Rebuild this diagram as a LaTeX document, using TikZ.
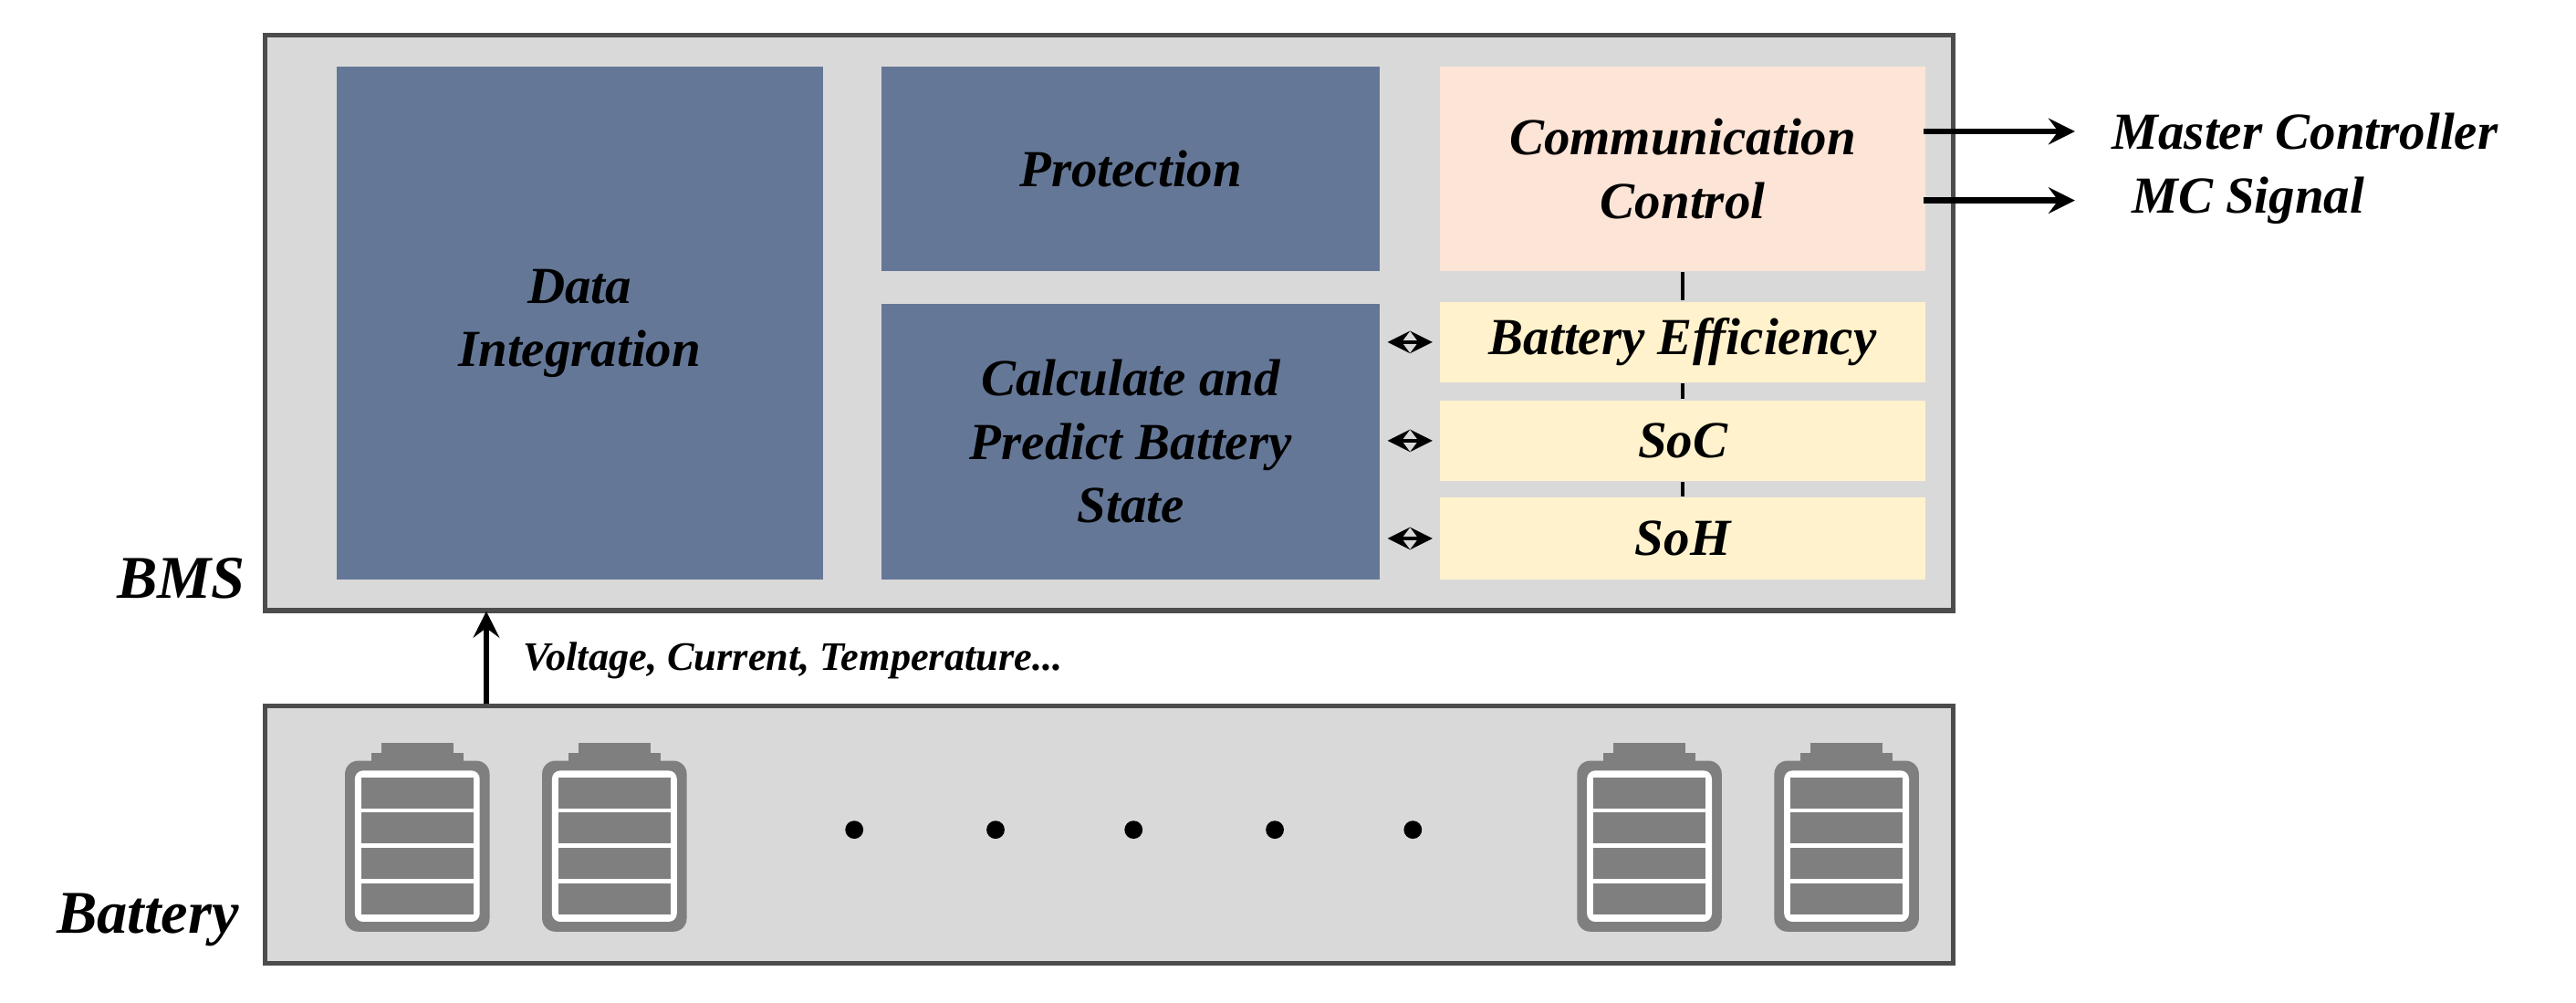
\documentclass[tikz,border=0pt]{standalone}
\usepackage{fontspec}
\setmainfont{Liberation Serif}
\begin{document}
\begin{tikzpicture}[x=0.01cm,y=-0.01cm,
  blk/.style={fill=bluef,draw=none,font=\fontsize{9}{11}\selectfont\bfseries\itshape,align=center,inner sep=0},
  ybox/.style={fill=yelf,draw=none,font=\fontsize{9}{11}\selectfont\bfseries\itshape,inner sep=0},
  lab/.style={font=\fontsize{9}{11}\selectfont\bfseries\itshape,inner sep=0},
  frame/.style={draw=black!70,line width=0.8pt,fill=grayf,inner sep=0},
  >=stealth]
\definecolor{bluef}{HTML}{647797}
\definecolor{grayf}{HTML}{D9D9D9}
\definecolor{yelf}{HTML}{FFF2CC}
\definecolor{peach}{HTML}{FCE4D6}
\definecolor{cellg}{HTML}{7F7F7F}
\useasboundingbox (0,0) rectangle (1568,610);
\fill[white] (0,0) rectangle (1568,610);
% BMS box
\node[frame,minimum width=10.27cm,minimum height=3.5cm,anchor=north west] (bms) at (160,20) {};
\node[blk,minimum width=2.96cm,minimum height=3.12cm,anchor=north west] (di) at (204,40) {Data\\Integration};
\node[blk,minimum width=3.03cm,minimum height=1.24cm,anchor=north west] (prot) at (536,40) {Protection};
\node[blk,minimum width=3.03cm,minimum height=1.68cm,anchor=north west] (calc) at (536,184) {Calculate and\\Predict Battery\\State};
\node[blk,fill=peach,minimum width=2.95cm,minimum height=1.24cm,anchor=north west] (comm) at (876,40) {Communication\\Control};
\node[ybox,minimum width=2.95cm,minimum height=0.49cm,anchor=north west] (eff) at (876,183) {Battery Efficiency};
\node[ybox,minimum width=2.95cm,minimum height=0.49cm,anchor=north west] (soc) at (876,243) {SoC};
\node[ybox,minimum width=2.95cm,minimum height=0.50cm,anchor=north west] (soh) at (876,302) {SoH};
\draw[line width=0.6pt] (comm.south) -- (eff.north);
\draw[line width=0.6pt] (eff.south) -- (soc.north);
\draw[line width=0.6pt] (soc.south) -- (soh.north);
\foreach \n in {eff,soc,soh}{
  \coordinate (L\n) at ([xshift=0.04cm]calc.east |- \n.west);
  \coordinate (R\n) at ([xshift=-0.04cm]\n.west);
  \draw[<->,line width=0.7pt] (L\n) -- (R\n);}
% outputs
\coordinate (o1) at (1171,80); \coordinate (o2) at (1171,122);
\coordinate (e1) at (1263,80); \coordinate (e2) at (1263,122);
\node[lab,anchor=west] (mc) at (1285,80) {Master Controller};
\node[lab,anchor=west] (mcs) at (1297,122) {MC Signal};
\draw[->,line width=1pt] (o1) -- (e1);
\draw[->,line width=1pt] (o2) -- (e2);
\node[lab,font=\fontsize{10.5}{12}\selectfont\bfseries\itshape,anchor=east] (bmsl) at (150,352) {BMS};
% battery box
\node[frame,minimum width=10.27cm,minimum height=1.57cm,anchor=north west] (bat) at (160,428) {};
\node[lab,font=\fontsize{10.5}{12}\selectfont\bfseries\itshape,anchor=east] (batl) at (146,560) {Battery};
\coordinate (up) at (296,428); \coordinate (upe) at (296,372);
\draw[->,line width=1pt] (up) -- (upe);
\node[lab,font=\fontsize{7}{9}\selectfont\bfseries\itshape,anchor=west] (vct) at (318,402) {Voltage, Current, Temperature...};
% battery icons
\foreach \cx in {254,374,1004,1124}{
  \fill[cellg] (\cx-22,452) rectangle (\cx+22,466);
  \fill[cellg] (\cx-28,458) rectangle (\cx+28,466);
  \fill[cellg,rounded corners=0.08cm] (\cx-44,463) rectangle (\cx+44,567);
  \fill[white,rounded corners=0.05cm] (\cx-38,469) rectangle (\cx+38,561);
  \foreach \yy in {0,1,2,3}{\fill[cellg] (\cx-34,473+\yy*21.5) rectangle (\cx+34,492+\yy*21.5);}
}
\foreach \dx in {520,606,690,776,860}{\fill (\dx,505) circle (0.055cm);}
\end{tikzpicture}
\end{document}
